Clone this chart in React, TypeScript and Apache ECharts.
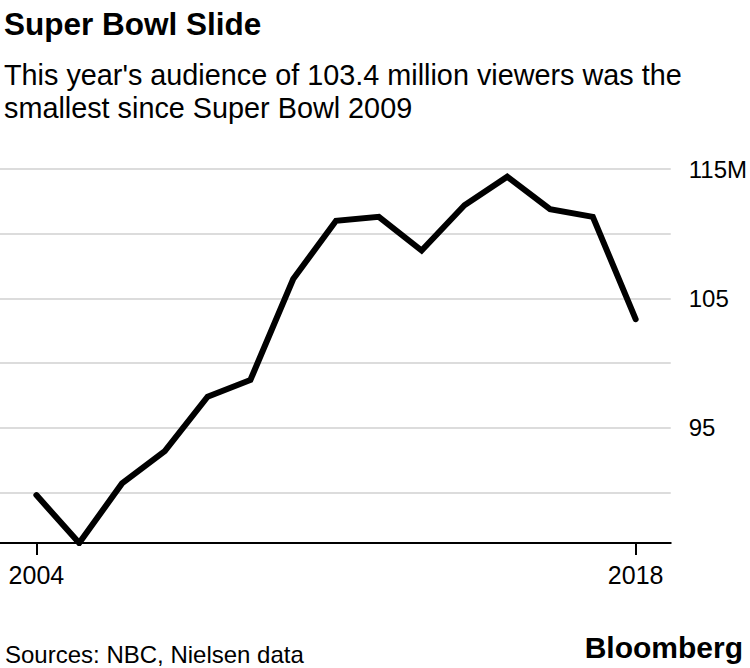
import React, { useEffect, useRef } from "react";
import * as echarts from "echarts";

const years = [2004, 2005, 2006, 2007, 2008, 2009, 2010, 2011, 2012, 2013, 2014, 2015, 2016, 2017, 2018];
const viewers = [89.8, 86.1, 90.7, 93.2, 97.4, 98.7, 106.5, 111.0, 111.3, 108.7, 112.2, 114.4, 111.9, 111.3, 103.4];
const yGridValues = [90, 95, 100, 105, 110, 115];
const yLabelValues = [95, 105, 115];
const xLabelValues = [2004, 2018];

const FONT = "'Liberation Sans', Arial, sans-serif";

export default function App() {
  const ref = useRef<HTMLDivElement>(null);
  useEffect(() => {
    const chart = echarts.init(ref.current!, null, { renderer: "svg" });
    chart.setOption({
      animation: false,
      backgroundColor: "#fff",
      title: [
        {
          text: "Super Bowl Slide",
          left: -1,
          top: 3,
          textStyle: { fontFamily: FONT, fontSize: 31.5, fontWeight: "bold", color: "#000" },
        },
        {
          text: "This year's audience of 103.4 million viewers was the\nsmallest since Super Bowl 2009",
          left: -1,
          top: 53,
          textStyle: { fontFamily: FONT, fontSize: 28.8, fontWeight: "normal", color: "#000", lineHeight: 33 },
        },
        {
          text: "Sources: NBC, Nielsen data",
          left: 0,
          top: 637,
          textStyle: { fontFamily: FONT, fontSize: 24, fontWeight: "normal", color: "#000" },
        },
        {
          text: "Bloomberg",
          right: 2,
          top: 627,
          textStyle: { fontFamily: FONT, fontSize: 30, fontWeight: "bold", color: "#000" },
        },
      ],
      grid: { left: 0, right: 74, top: 169, bottom: 125, containLabel: false },
      xAxis: {
        type: "value",
        min: 2003.15,
        max: 2018.82,
        axisLine: { show: true, lineStyle: { color: "#000", width: 2 } },
        axisTick: { show: true, length: 12, lineStyle: { color: "#000", width: 2 }, customValues: xLabelValues },
        axisLabel: {
          customValues: xLabelValues,
          fontFamily: FONT,
          fontSize: 25,
          color: "#000",
          margin: 19,
          formatter: (v: number) => String(v),
        },
        splitLine: { show: false },
      },
      yAxis: {
        type: "value",
        position: "right",
        min: 86.1,
        max: 115,
        axisLine: { show: false },
        axisTick: { show: false, customValues: yGridValues },
        axisLabel: {
          customValues: yLabelValues,
          fontFamily: FONT,
          fontSize: 24,
          color: "#000",
          margin: 18,
          formatter: (v: number) => (v === 115 ? "115M" : String(v)),
        },
        splitLine: { show: true, lineStyle: { color: "#dcdcdc", width: 2 } },
      },
      series: [
        {
          type: "line",
          data: years.map((y, i) => [y, viewers[i]]),
          symbol: "none",
          lineStyle: { color: "#000", width: 6, cap: "round", join: "miter" },
        },
      ],
    });
    return () => chart.dispose();
  }, []);
  return <div ref={ref} style={{ position: "fixed", left: 0, top: 0, width: 750, height: 668 }} />;
}
